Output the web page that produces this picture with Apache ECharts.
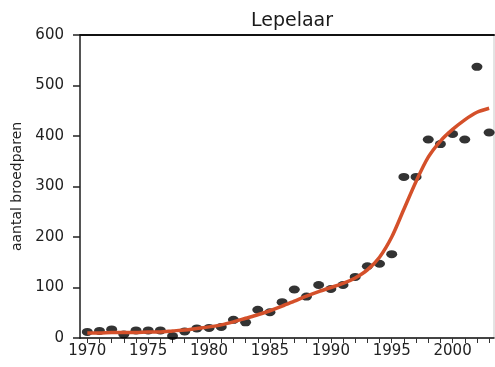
<!DOCTYPE html>
<html>
<head>
<meta charset="utf-8">
<script src="https://cdn.jsdelivr.net/npm/echarts@6/dist/echarts.min.js"></script>
<style>
  html, body { margin: 0; padding: 0; background: #fff; }
  #chart { width: 495px; height: 367px; }
</style>
</head>
<body>
<div id="chart"></div>
<script>
// Lepelaar (spoonbill) breeding pairs per year, with fitted trend
const years = [1970, 1971, 1972, 1973, 1974, 1975, 1976, 1977, 1978, 1979,
               1980, 1981, 1982, 1983, 1984, 1985, 1986, 1987, 1988, 1989,
               1990, 1991, 1992, 1993, 1994, 1995, 1996, 1997, 1998, 1999,
               2000, 2001, 2002, 2003];
const counts = [12, 14, 17, 7, 15, 15, 15, 4, 13, 19,
                20, 22, 36, 31, 56, 51, 71, 96, 82, 105,
                97, 105, 121, 142, 147, 166, 319, 319, 393, 384,
                404, 393, 537, 407];
const trend = [10, 10, 11, 11, 11, 12, 12, 14, 16, 19,
               22, 26, 32, 39, 46, 54, 63, 73, 83, 92,
               100, 108, 119, 135, 160, 200, 255, 310, 358, 390,
               413, 432, 447, 455];
const xLabelYears = [1970, 1975, 1980, 1985, 1990, 1995, 2000];
const yTicks = [0, 100, 200, 300, 400, 500, 600];

const FONT = 'DejaVu Sans';
const chart = echarts.init(document.getElementById('chart'), null, { renderer: 'canvas' });

chart.setOption({
  animation: false,
  title: {
    text: 'Lepelaar',
    left: 287,
    textAlign: 'center',
    top: 7,
    textStyle: { fontFamily: FONT, fontSize: 19, fontWeight: 'normal', color: '#1a1a1a' }
  },
  grid: {
    left: 80, right: 1, top: 35, bottom: 29,
    show: true, borderColor: '#c8c8c8', borderWidth: 1, backgroundColor: 'transparent'
  },
  xAxis: [{
    type: 'value',
    min: 1969.4,
    max: 2003.4,
    splitLine: { show: false },
    axisLine: { show: true, onZero: false, lineStyle: { color: '#111', width: 1.5 } },
    axisTick: {
      show: true, inside: false, length: 5,
      customValues: years,
      lineStyle: { color: '#333', width: 1 }
    },
    axisLabel: {
      customValues: xLabelYears,
      margin: 6,
      fontFamily: FONT, fontSize: 15, color: '#222',
      formatter: v => String(v)
    }
  }, {
    type: 'value',
    position: 'top',
    min: 1969.4,
    max: 2003.4,
    splitLine: { show: false },
    axisLine: { show: true, onZero: false, lineStyle: { color: '#111', width: 2 } },
    axisTick: { show: false },
    axisLabel: { show: false }
  }],
  yAxis: {
    type: 'value',
    min: 0, max: 600, interval: 100,
    name: 'aantal broedparen',
    nameLocation: 'middle',
    nameGap: 55,
    nameRotate: 90,
    nameTextStyle: { fontFamily: FONT, fontSize: 14, color: '#222' },
    splitLine: { show: false },
    axisLine: { show: true, onZero: false, lineStyle: { color: '#555', width: 2 } },
    axisTick: { show: true, length: 7, lineStyle: { color: '#222', width: 1.5 } },
    axisLabel: {
      customValues: yTicks,
      margin: 16,
      fontFamily: FONT, fontSize: 15, color: '#222'
    }
  },
  series: [{
    type: 'scatter',
    xAxisIndex: 0,
    data: years.map((y, i) => [y, counts[i]]),
    symbol: 'circle',
    symbolSize: [11, 8],
    itemStyle: { color: '#000' },
    z: 2
  }, {
    type: 'line',
    xAxisIndex: 0,
    data: years.map((y, i) => [y, trend[i]]),
    smooth: 0.3,
    showSymbol: false,
    lineStyle: { color: '#d4502a', width: 3.5 },
    z: 3
  }]
});
</script>
</body>
</html>
